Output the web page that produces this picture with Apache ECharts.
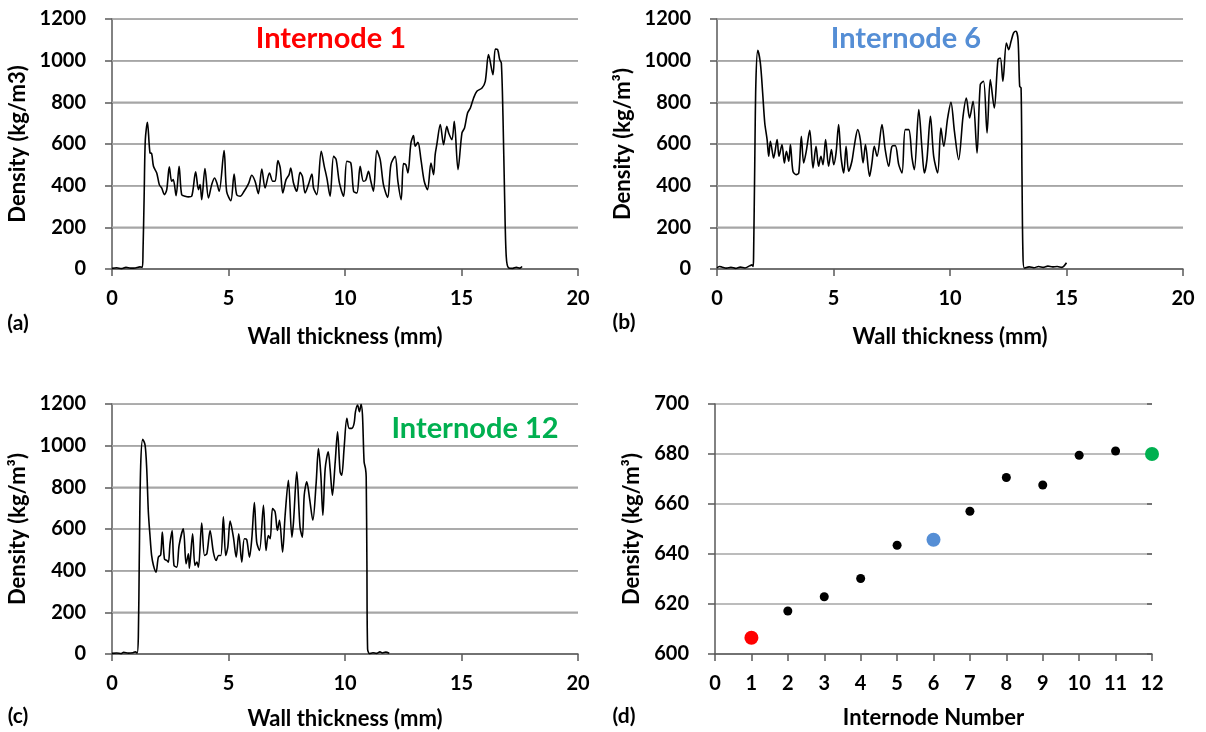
<!DOCTYPE html>
<html>
<head>
<meta charset="utf-8">
<script src="https://cdn.jsdelivr.net/npm/echarts@6/dist/echarts.min.js"></script>
<style>
  html, body { margin: 0; padding: 0; background: #fff; }
  #page { position: relative; width: 1206px; height: 732px; }
  .panel { position: absolute; width: 603px; height: 366px; }
  #pa { left: 0; top: 0; }
  #pb { left: 603px; top: 0; }
  #pc { left: 0; top: 366px; }
  #pd { left: 603px; top: 366px; }
</style>
</head>
<body>
<div id="page">
  <div class="panel" id="pa"></div>
  <div class="panel" id="pb"></div>
  <div class="panel" id="pc"></div>
  <div class="panel" id="pd"></div>
</div>
<script>
// density profiles across the wall, [wall thickness mm, density kg/m3]
var profile1 = [
  [0, 3], [0.2, 6], [0.4, 2], [0.6, 8], [0.8, 4], [1.0, 5], [1.2, 10], [1.3, 8],
  [1.33, 80], [1.38, 350], [1.43, 620], [1.52, 704], [1.63, 557], [1.70, 555], [1.78, 493],
  [1.92, 461], [2.03, 405], [2.13, 389], [2.25, 357], [2.35, 381], [2.46, 490], [2.56, 421],
  [2.63, 429], [2.75, 352], [2.88, 493], [2.99, 357], [3.14, 349], [3.28, 346], [3.42, 349],
  [3.59, 466], [3.71, 381], [3.78, 405], [3.85, 333], [3.99, 482], [4.14, 341], [4.28, 405],
  [4.40, 437], [4.50, 413], [4.60, 373], [4.81, 568], [4.92, 373], [5.10, 328], [5.24, 456],
  [5.35, 357], [5.50, 349], [5.67, 373], [5.86, 410], [6.00, 450], [6.14, 421], [6.28, 362],
  [6.43, 480], [6.57, 389], [6.76, 461], [6.90, 421], [7.00, 421], [7.12, 520], [7.22, 485],
  [7.33, 365], [7.47, 429], [7.60, 453], [7.67, 485], [7.79, 413], [7.93, 373], [8.07, 464],
  [8.17, 445], [8.29, 365], [8.43, 405], [8.58, 456], [8.65, 389], [8.79, 357], [8.98, 565],
  [9.11, 493], [9.22, 437], [9.36, 349], [9.51, 541], [9.62, 525], [9.76, 413], [9.94, 349],
  [10.08, 517], [10.25, 509], [10.37, 373], [10.51, 365], [10.65, 493], [10.79, 421],
  [10.89, 426], [11.01, 469], [11.11, 421], [11.22, 373], [11.37, 568], [11.51, 525],
  [11.65, 405], [11.83, 344], [11.97, 501], [12.15, 541], [12.27, 421], [12.41, 333],
  [12.51, 506], [12.61, 501], [12.70, 461], [12.83, 605], [12.94, 640], [13.01, 589],
  [13.13, 608], [13.26, 525], [13.40, 421], [13.54, 381], [13.69, 509], [13.80, 453],
  [13.87, 549], [13.94, 597], [14.09, 693], [14.23, 597], [14.37, 685], [14.45, 653],
  [14.59, 621], [14.69, 709], [14.85, 477], [15.02, 653], [15.13, 677], [15.26, 749],
  [15.38, 773], [15.52, 821], [15.66, 853], [15.88, 869], [16.02, 901], [16.16, 1029],
  [16.35, 933], [16.45, 1056], [16.55, 1053], [16.64, 1005], [16.71, 989], [16.78, 733],
  [16.85, 349], [16.92, 61], [17.02, 5], [17.2, 3], [17.35, 8], [17.5, 4], [17.6, 12]
];

var profile6 = [
  [0, 5], [0.1, 12], [0.2, 10], [0.4, 4], [0.6, 8], [0.8, 3], [1.0, 9], [1.2, 5], [1.4, 15],
  [1.5, 20], [1.55, 12], [1.57, 60], [1.62, 500], [1.67, 900], [1.75, 1050], [1.86, 989],
  [1.96, 845], [2.05, 701], [2.15, 621], [2.22, 541], [2.29, 613], [2.36, 573], [2.43, 533],
  [2.58, 621], [2.66, 541], [2.79, 597], [2.89, 509], [2.98, 565], [3.08, 517], [3.15, 597],
  [3.26, 469], [3.40, 453], [3.51, 461], [3.62, 637], [3.72, 509], [3.83, 565], [3.98, 666],
  [4.12, 485], [4.25, 589], [4.36, 493], [4.46, 541], [4.55, 501], [4.66, 621], [4.79, 493],
  [4.91, 573], [5.01, 501], [5.11, 557], [5.22, 693], [5.32, 541], [5.44, 461], [5.54, 589],
  [5.65, 469], [5.79, 517], [5.89, 589], [6.04, 669], [6.15, 621], [6.27, 509], [6.37, 597],
  [6.55, 445], [6.65, 509], [6.75, 589], [6.87, 541], [7.08, 693], [7.22, 573], [7.37, 493],
  [7.51, 589], [7.65, 592], [7.80, 501], [7.94, 461], [8.08, 669], [8.23, 669], [8.37, 533],
  [8.47, 477], [8.66, 765], [8.80, 573], [8.90, 461], [9.01, 525], [9.16, 733], [9.30, 541],
  [9.47, 461], [9.61, 677], [9.73, 589], [9.90, 725], [10.04, 800], [10.19, 661],
  [10.37, 525], [10.56, 733], [10.70, 821], [10.84, 725], [10.99, 805], [11.16, 557],
  [11.30, 885], [11.44, 901], [11.59, 653], [11.73, 909], [11.90, 773], [12.06, 1005],
  [12.16, 1013], [12.27, 901], [12.42, 1085], [12.52, 1053], [12.62, 1093], [12.73, 1133],
  [12.83, 1141], [12.92, 1101], [12.99, 877], [13.05, 869], [13.09, 445], [13.13, 77],
  [13.19, 5], [13.4, 10], [13.6, 6], [13.8, 12], [14.0, 8], [14.2, 14], [14.4, 10],
  [14.6, 12], [14.8, 8], [14.9, 15], [15.0, 30]
];

var profile12 = [
  [0, 3], [0.2, 5], [0.4, 2], [0.5, 8], [0.7, 4], [0.9, 6], [1.0, 10], [1.08, 5],
  [1.13, 80], [1.17, 450], [1.23, 900], [1.32, 1031], [1.42, 1003], [1.49, 890], [1.56, 682],
  [1.63, 569], [1.70, 473], [1.78, 425], [1.89, 393], [1.99, 465], [2.09, 476], [2.16, 585],
  [2.25, 457], [2.35, 449], [2.42, 441], [2.49, 529], [2.58, 593], [2.66, 425], [2.78, 417],
  [2.88, 521], [3.06, 601], [3.18, 433], [3.28, 481], [3.32, 412], [3.46, 577], [3.56, 425],
  [3.64, 441], [3.71, 417], [3.85, 629], [3.97, 473], [4.07, 481], [4.21, 593], [4.35, 489],
  [4.47, 449], [4.57, 473], [4.67, 473], [4.78, 658], [4.88, 473], [4.97, 513], [5.07, 638],
  [5.21, 561], [5.33, 465], [5.44, 577], [5.57, 441], [5.68, 553], [5.78, 550], [5.90, 465],
  [6.00, 553], [6.11, 727], [6.21, 537], [6.33, 497], [6.50, 714], [6.61, 497], [6.71, 569],
  [6.79, 553], [6.89, 698], [7.00, 682], [7.10, 593], [7.19, 642], [7.32, 489], [7.43, 666],
  [7.57, 834], [7.72, 561], [7.79, 634], [7.93, 874], [8.07, 609], [8.17, 561], [8.25, 762],
  [8.36, 826], [8.48, 746], [8.62, 642], [8.76, 818], [8.86, 986], [8.96, 866], [9.05, 666],
  [9.15, 890], [9.28, 970], [9.36, 890], [9.46, 762], [9.58, 922], [9.68, 1067], [9.79, 874],
  [9.86, 858], [9.96, 986], [10.08, 1131], [10.18, 1083], [10.29, 1083], [10.39, 1107],
  [10.45, 1163], [10.54, 1195], [10.62, 1163], [10.69, 1199], [10.75, 1147], [10.82, 922],
  [10.88, 890], [10.91, 850], [10.94, 441], [10.97, 24], [11.05, 2], [11.2, 6], [11.35, 3],
  [11.5, 10], [11.6, 5], [11.75, 9], [11.9, 4]
];

// mean density per internode (panel d)
var internodes = [1, 2, 3, 4, 5, 6, 7, 8, 9, 10, 11, 12];
var meanDensity = [606.5, 617.2, 622.9, 630.2, 643.5, 645.7, 657.1, 670.6, 667.6, 679.5, 681.2, 680.0];

// gridline levels of the profile panels
var densityTicks = [200, 400, 600, 800, 1000, 1200];
var wallMax = 20;

var panelTitles = ['Internode 1', 'Internode 6', 'Internode 12'];
var panelLetters = ['(a)', '(b)', '(c)', '(d)'];

var FONT = 'Lato';
var highlight = { 1: '#FF0000', 6: '#558ED5', 12: '#00B050' };

function lbl(size) {
  return { color: '#000', fontFamily: FONT, fontWeight: 'bold', fontSize: size };
}
function plain(v) { return String(v); }

function xAx(max, interval, name, gap) {
  return {
    type: 'value', min: 0, max: max, interval: interval,
    name: name, nameLocation: 'middle', nameGap: gap,
    nameTextStyle: lbl(22),
    axisLine: { show: true, lineStyle: { color: '#595959', width: 1.5 } },
    axisTick: { show: true, length: 7, lineStyle: { color: '#595959', width: 1.5 } },
    axisLabel: Object.assign({ margin: 20, formatter: plain, hideOverlap: false }, lbl(20)),
    splitLine: { show: false }
  };
}
function yAx(min, max, interval, name, gap) {
  return {
    type: 'value', min: min, max: max, interval: interval,
    name: name, nameLocation: 'middle', nameGap: gap,
    nameTextStyle: lbl(22),
    axisLine: { show: true, lineStyle: { color: '#595959', width: 1.5 } },
    axisTick: { show: true, length: 7, lineStyle: { color: '#595959', width: 1.5 } },
    axisLabel: Object.assign({ margin: 26, formatter: plain }, lbl(20)),
    splitLine: { show: true, lineStyle: { color: '#A6A6A6', width: 1.5 } }
  };
}

function txt(x, y, text, size, color) {
  return {
    type: 'text', x: x, y: y,
    style: {
      text: text, fill: color || '#000',
      font: 'bold ' + size + 'px ' + FONT,
      align: 'center', verticalAlign: 'middle'
    }
  };
}

// horizontal gridlines as plain gray line series under the curve
function gridSeries() {
  return densityTicks.map(function (v) {
    return {
      type: 'line', data: [[0, v], [wallMax, v]], silent: true, z: 1,
      showSymbol: false, symbol: 'none',
      lineStyle: { color: '#A6A6A6', width: 1.5 }
    };
  });
}

function profilePanel(id, grid, data, yName, yGap, xGap, title, titleCenter, letter, letterPos) {
  grid.outerBoundsMode = 'none';
  var chart = echarts.init(document.getElementById(id), null, { renderer: 'canvas' });
  chart.setOption({
    animation: false,
    grid: grid,
    title: {
      text: title.text, left: titleCenter[0], top: titleCenter[1] - 16,
      textAlign: 'center', padding: 0,
      textStyle: { color: title.color, fontFamily: FONT, fontWeight: 'bold', fontSize: 29 }
    },
    xAxis: xAx(wallMax, 5, 'Wall thickness (mm)', xGap),
    yAxis: yAx(0, 1200, 200, yName, yGap),
    series: gridSeries().concat([{
      type: 'line', data: data, showSymbol: false, symbol: 'none', smooth: 0.3, z: 3,
      lineStyle: { color: '#000', width: 1.6 }
    }]),
    graphic: [txt(letterPos[0], letterPos[1], letter, 21)]
  });
}

profilePanel('pa', { left: 112, top: 19, width: 466, height: 250 }, profile1,
  'Density (kg/m3)', 79, 57, { text: panelTitles[0], color: highlight[1] }, [331, 40],
  panelLetters[0], [18, 323]);
profilePanel('pb', { left: 114, top: 19, width: 466, height: 250 }, profile6,
  'Density (kg/m³)', 78, 57, { text: panelTitles[1], color: highlight[6] }, [303, 40],
  panelLetters[1], [21, 322]);
profilePanel('pc', { left: 112, top: 38, width: 466, height: 250 }, profile12,
  'Density (kg/m³)', 79, 54, { text: panelTitles[2], color: highlight[12] }, [475, 64],
  panelLetters[2], [18, 350]);

// panel d: mean density vs internode
var dotData = internodes.map(function (n, i) {
  var c = highlight[n];
  return {
    value: [n, meanDensity[i]],
    symbolSize: c ? 14 : 9,
    itemStyle: { color: c || '#000', opacity: 1 }
  };
});

var chartD = echarts.init(document.getElementById('pd'), null, { renderer: 'canvas' });
chartD.setOption({
  animation: false,
  grid: { left: 112, top: 38, width: 437, height: 250, outerBoundsMode: 'none' },
  xAxis: xAx(12, 1, 'Internode Number', 53),
  yAxis: [
    yAx(600, 700, 20, 'Density (kg/m³)', 70),
    // inside half of the crossing ticks
    {
      type: 'value', min: 600, max: 700, interval: 20,
      axisLine: { show: false }, axisLabel: { show: false }, splitLine: { show: false },
      axisTick: { show: true, inside: true, length: 5, lineStyle: { color: '#595959', width: 1.5 } }
    }
  ],
  series: [{
    type: 'scatter', data: dotData, clip: false, z: 5
  }],
  graphic: [txt(21, 350, panelLetters[3], 21)]
});
</script>
</body>
</html>
